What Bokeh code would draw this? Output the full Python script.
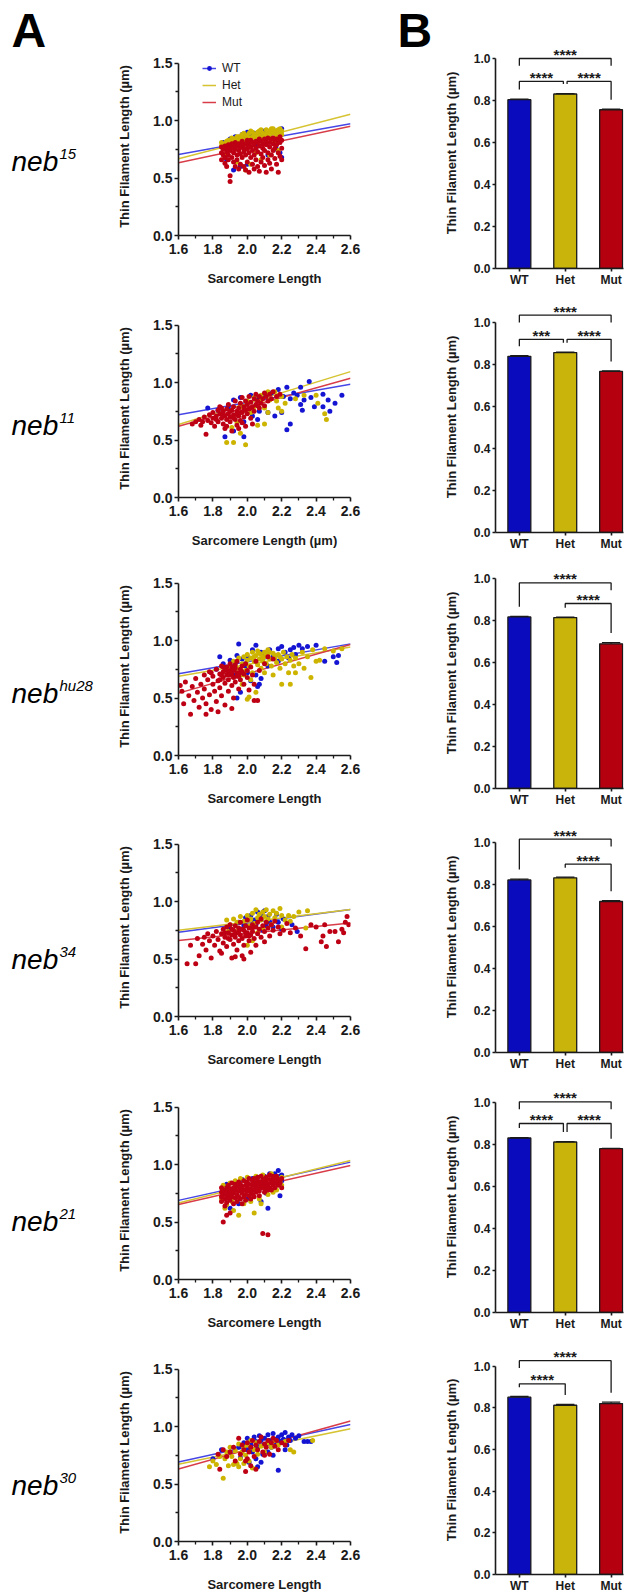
from bokeh.plotting import figure
from bokeh.models import Range1d, FixedTicker, PrintfTickFormatter, Legend, LegendItem
from bokeh.layouts import row, column
from bokeh.embed import file_html
from bokeh.resources import INLINE
from bokeh.core.properties import value

FONT = "Liberation Sans"
INK = "#1a1a1a"

GROUPS = ["WT", "Het", "Mut"]
PT_COLORS = ["#1414D2", "#CDB400", "#BE0014"]
LINE_COLORS = ["#4646E6", "#D6C332", "#D83C48"]
BAR_COLORS = ["#0B0BBE", "#C8B40A", "#B4000F"]

ALLELES = ["15", "11", "hu28", "34", "21", "30"]
X_LABELS = ["Sarcomere Length", "Sarcomere Length (µm)", "Sarcomere Length",
            "Sarcomere Length", "Sarcomere Length", "Sarcomere Length"]
Y_LABEL = "Thin Filament Length (µm)"

# ---------------- scatter data (sarcomere length, thin filament length) ----------------
WT15 = [(1.86,0.81),(1.88,0.66),(1.89,0.75),(1.90,0.84),(1.92,0.57),(1.93,0.86),(1.95,0.78),(1.96,0.60),
        (1.97,0.88),(2.00,0.62),(2.00,0.90),(2.04,0.89),(2.05,0.80),(2.07,0.90),(2.10,0.91),(2.10,0.82),
        (2.12,0.70),(2.14,0.85),(2.15,0.92),(2.17,0.75),(2.19,0.72),(2.20,0.93),(2.20,0.68),(1.98,0.84),
        (2.02,0.87),(2.08,0.86)]
HET15 = [(1.85,0.78),(1.85,0.81),(1.87,0.80),(1.87,0.76),(1.89,0.83),(1.89,0.79),(1.91,0.82),(1.91,0.85),
         (1.93,0.84),(1.93,0.80),(1.95,0.86),(1.95,0.82),(1.97,0.85),(1.97,0.88),(1.99,0.83),(1.99,0.87),
         (2.01,0.89),(2.01,0.85),(2.03,0.86),(2.03,0.90),(2.05,0.88),(2.05,0.84),(2.07,0.91),(2.07,0.87),
         (2.09,0.89),(2.09,0.85),(2.11,0.92),(2.11,0.88),(2.13,0.90),(2.13,0.86),(2.15,0.93),(2.15,0.89),
         (2.17,0.91),(2.17,0.87),(2.19,0.93),(2.19,0.90),(2.20,0.88),(1.94,0.64),(1.99,0.57),(2.02,0.62),
         (2.08,0.66),(2.13,0.70),(2.18,0.74),(1.88,0.70),(2.05,0.72),(1.92,0.77),(2.00,0.80),(2.10,0.83),
         (2.16,0.82),(1.86,0.79),(1.88,0.82),(1.90,0.81),(1.92,0.84),(1.94,0.86),(1.96,0.84),(1.98,0.89),
         (2.00,0.86),(2.02,0.91),(2.04,0.87),(2.06,0.90),(2.08,0.92),(2.10,0.88),(2.12,0.91),(2.14,0.93),
         (2.16,0.90),(2.18,0.92),(2.20,0.91)]
MUT15 = [(1.85,0.66),(1.85,0.72),(1.85,0.77),(1.86,0.70),(1.86,0.75),(1.87,0.63),(1.87,0.68),(1.87,0.78),
         (1.88,0.73),(1.88,0.76),(1.88,0.60),(1.89,0.70),(1.89,0.79),(1.89,0.66),(1.90,0.47),(1.90,0.52),
         (1.90,0.74),(1.90,0.78),(1.91,0.68),(1.91,0.76),(1.91,0.80),(1.92,0.72),(1.92,0.64),(1.92,0.79),
         (1.93,0.60),(1.93,0.75),(1.93,0.81),(1.94,0.70),(1.94,0.78),(1.94,0.66),(1.95,0.74),(1.95,0.80),
         (1.95,0.58),(1.96,0.62),(1.96,0.77),(1.96,0.71),(1.97,0.79),(1.97,0.68),(1.97,0.82),(1.98,0.73),
         (1.98,0.76),(1.98,0.60),(1.99,0.57),(1.99,0.80),(1.99,0.70),(2.00,0.64),(2.00,0.75),(2.00,0.79),
         (2.00,0.83),(2.01,0.55),(2.01,0.72),(2.01,0.80),(2.02,0.68),(2.02,0.77),(2.02,0.83),(2.03,0.62),
         (2.03,0.74),(2.03,0.81),(2.04,0.58),(2.04,0.79),(2.04,0.70),(2.05,0.66),(2.05,0.76),(2.05,0.82),
         (2.06,0.60),(2.06,0.81),(2.06,0.73),(2.07,0.56),(2.07,0.78),(2.07,0.84),(2.08,0.64),(2.08,0.71),
         (2.08,0.82),(2.09,0.68),(2.09,0.80),(2.09,0.76),(2.10,0.61),(2.10,0.74),(2.10,0.84),(2.11,0.55),
         (2.11,0.79),(2.11,0.82),(2.12,0.66),(2.12,0.72),(2.12,0.85),(2.13,0.63),(2.13,0.81),(2.13,0.77),
         (2.14,0.70),(2.14,0.84),(2.14,0.58),(2.15,0.74),(2.15,0.80),(2.15,0.85),(2.16,0.67),(2.16,0.83),
         (2.16,0.76),(2.17,0.62),(2.17,0.79),(2.17,0.84),(2.18,0.55),(2.18,0.72),(2.18,0.82),(2.19,0.69),
         (2.19,0.81),(2.19,0.86),(2.20,0.76),(2.20,0.83),(2.20,0.66)]

WT11 = [(2.36,1.01),(2.31,0.96),(2.27,0.91),(2.23,0.96),(2.37,0.87),(2.33,0.85),(2.31,0.81),(2.39,0.79),
        (2.32,0.76),(2.48,0.75),(2.44,0.79),(2.44,0.90),(2.51,0.82),(2.47,0.85),(2.25,0.64),(2.23,0.59),
        (2.20,0.74),(2.16,0.71),(2.12,0.74),(2.07,0.75),(2.06,0.68),(2.03,0.71),(1.98,0.66),(1.98,0.53),
        (1.87,0.53),(1.92,0.58),(2.18,0.94),(2.14,0.91),(2.10,0.89),(2.06,0.87),(2.02,0.89),(1.96,0.87),
        (1.92,0.85),(1.89,0.79),(1.83,0.76),(1.77,0.78),(2.55,0.89),(2.21,0.88),(2.25,0.86),(2.29,0.89)]
HET11 = [(1.88,0.48),(1.92,0.48),(1.99,0.46),(1.96,0.56),(2.06,0.63),(2.10,0.64),(2.12,0.74),(2.18,0.78),
         (2.22,0.82),(2.28,0.86),(2.33,0.89),(2.40,0.89),(2.41,0.82),(2.45,0.73),(2.46,0.68),(2.20,0.88),
         (2.16,0.92),(2.12,0.92),(2.08,0.89),(2.04,0.87),(2.00,0.84),(1.96,0.79),(2.04,0.79),(2.08,0.84),
         (2.13,0.85),(2.17,0.84),(2.02,0.74),(2.10,0.78),(1.94,0.65),(1.91,0.61),(2.20,0.75)]
MUT11 = [(1.68,0.64),(1.70,0.66),(1.72,0.68),(1.73,0.63),(1.75,0.70),(1.76,0.55),(1.77,0.67),(1.78,0.72),
         (1.79,0.65),(1.80,0.74),(1.80,0.69),(1.81,0.62),(1.82,0.71),(1.83,0.76),(1.83,0.66),(1.84,0.73),
         (1.85,0.69),(1.85,0.78),(1.86,0.64),(1.86,0.75),(1.87,0.71),(1.87,0.60),(1.88,0.77),(1.88,0.68),
         (1.89,0.73),(1.89,0.81),(1.90,0.70),(1.90,0.66),(1.91,0.76),(1.91,0.58),(1.92,0.79),(1.92,0.72),
         (1.93,0.68),(1.93,0.84),(1.94,0.75),(1.94,0.63),(1.95,0.78),(1.95,0.71),(1.96,0.82),(1.96,0.67),
         (1.97,0.74),(1.97,0.87),(1.98,0.79),(1.98,0.70),(1.99,0.76),(1.99,0.84),(2.00,0.81),(2.00,0.73),
         (2.01,0.88),(2.01,0.77),(2.02,0.83),(2.02,0.69),(2.03,0.79),(2.04,0.86),(2.04,0.75),(2.05,0.90),
         (2.05,0.81),(2.06,0.84),(2.07,0.78),(2.07,0.88),(2.08,0.82),(2.09,0.86),(2.10,0.91),(2.10,0.80),
         (2.11,0.88),(2.12,0.84),(2.13,0.90),(2.14,0.86),(2.15,0.92),(2.17,0.88),(2.19,0.90),(1.95,0.60),
         (1.99,0.62),(2.03,0.64),(1.88,0.62),(1.74,0.66),(1.84,0.79),(1.97,0.65),(1.82,0.68),(1.86,0.72),
         (1.90,0.75),(1.94,0.72),(1.98,0.76),(2.02,0.78),(2.06,0.80),(1.92,0.69),(1.96,0.74)]

WTHU28 = [(1.82,0.75),(1.86,0.80),(1.90,0.83),(1.94,0.87),(1.97,0.84),(2.00,0.86),(2.03,0.92),(2.05,0.96),
          (2.08,0.90),(2.10,0.88),(2.13,0.92),(2.15,0.86),(2.18,0.93),(2.20,0.95),(2.22,0.90),(2.25,0.92),
          (2.27,0.94),(2.30,0.96),(2.32,0.93),(2.35,0.95),(2.28,0.88),(2.24,0.85),(2.18,0.82),(2.12,0.78),
          (2.05,0.70),(2.02,0.65),(2.00,0.72),(2.07,0.62),(2.50,0.86),(2.52,0.81),(2.45,0.82),(1.99,0.78),
          (1.93,0.70),(1.84,0.86),(1.95,0.97),(2.40,0.96),(2.53,0.87),(2.08,0.67),(2.06,0.60),(1.94,0.50),
          (1.96,0.55)]
HETHU28 = [(1.90,0.78),(1.92,0.82),(1.94,0.76),(1.95,0.85),(1.96,0.70),(1.97,0.80),(1.98,0.86),(1.99,0.74),
           (2.00,0.83),(2.00,0.88),(2.01,0.78),(2.02,0.85),(2.03,0.90),(2.03,0.72),(2.04,0.82),(2.05,0.87),
           (2.06,0.79),(2.06,0.91),(2.07,0.84),(2.08,0.88),(2.08,0.76),(2.09,0.82),(2.10,0.90),(2.10,0.86),
           (2.11,0.80),(2.12,0.87),(2.12,0.92),(2.13,0.84),(2.14,0.78),(2.15,0.89),(2.16,0.85),(2.17,0.81),
           (2.18,0.88),(2.19,0.76),(2.20,0.84),(2.21,0.90),(2.22,0.80),(2.23,0.86),(2.24,0.72),(2.25,0.83),
           (2.26,0.88),(2.27,0.78),(2.28,0.85),(2.30,0.80),(2.32,0.90),(2.33,0.76),(2.35,0.86),(2.37,0.68),
           (2.38,0.92),(2.40,0.82),(2.42,0.83),(2.45,0.93),(2.50,0.91),(2.55,0.93),(1.97,0.62),(2.02,0.66),
           (2.05,0.55),(2.00,0.49),(2.01,0.51),(2.20,0.62),(2.25,0.62),(2.15,0.70),(2.28,0.72),(2.10,0.72),
           (1.98,0.70),(2.04,0.86),(2.07,0.89),(2.09,0.85),(2.11,0.88),(2.13,0.90),(2.16,0.87),(2.19,0.86)]
MUTHU28 = [(1.61,0.61),(1.62,0.56),(1.63,0.45),(1.64,0.64),(1.66,0.52),(1.67,0.36),(1.68,0.60),(1.69,0.48),
           (1.70,0.67),(1.71,0.55),(1.72,0.42),(1.73,0.62),(1.74,0.50),(1.75,0.70),(1.75,0.58),(1.76,0.45),
           (1.77,0.66),(1.78,0.53),(1.78,0.73),(1.79,0.40),(1.80,0.62),(1.80,0.69),(1.81,0.56),(1.82,0.75),
           (1.82,0.47),(1.83,0.65),(1.84,0.71),(1.84,0.59),(1.85,0.78),(1.85,0.52),(1.86,0.68),(1.86,0.73),
           (1.87,0.63),(1.87,0.44),(1.88,0.77),(1.88,0.70),(1.89,0.56),(1.89,0.66),(1.90,0.74),(1.90,0.80),
           (1.91,0.61),(1.91,0.71),(1.92,0.68),(1.92,0.50),(1.93,0.76),(1.93,0.64),(1.94,0.72),(1.94,0.82),
           (1.95,0.58),(1.95,0.69),(1.96,0.75),(1.96,0.66),(1.97,0.78),(1.98,0.62),(1.98,0.71),(1.99,0.80),
           (2.00,0.68),(2.00,0.74),(2.01,0.57),(2.02,0.77),(2.03,0.70),(2.04,0.62),(2.05,0.82),(2.06,0.48),
           (2.07,0.74),(2.04,0.48),(2.10,0.80),(2.12,0.86),(2.15,0.84),(1.83,0.38),(1.91,0.41),(1.76,0.36),
           (1.79,0.72),(1.87,0.76),(1.91,0.77),(1.97,0.73),(1.84,0.66),(1.89,0.72),(1.86,0.77),(1.88,0.74),
           (1.90,0.70),(1.92,0.74),(1.94,0.69),(1.96,0.72),(1.85,0.70),(1.93,0.79)]

WT34 = [(1.90,0.76),(1.95,0.82),(1.99,0.86),(2.02,0.88),(2.04,0.84),(2.06,0.91),(2.08,0.89),(2.10,0.92),
        (2.12,0.87),(2.13,0.82),(2.15,0.78),(2.17,0.89),(2.18,0.82),(2.20,0.76),(2.05,0.80),(2.09,0.75),
        (2.11,0.79),(2.21,0.85),(2.29,0.74),(2.26,0.80),(1.98,0.79),(2.07,0.86)]
HET34 = [(1.88,0.84),(1.90,0.80),(1.92,0.85),(1.94,0.82),(1.96,0.87),(1.98,0.83),(2.00,0.88),(2.02,0.85),
         (2.03,0.90),(2.04,0.81),(2.05,0.93),(2.06,0.86),(2.07,0.89),(2.08,0.84),(2.09,0.91),(2.10,0.87),
         (2.11,0.93),(2.12,0.85),(2.13,0.89),(2.15,0.92),(2.16,0.86),(2.17,0.90),(2.19,0.94),(2.20,0.88),
         (2.22,0.84),(2.24,0.88),(2.25,0.83),(2.27,0.87),(2.30,0.91),(2.35,0.92),(1.95,0.76),(2.01,0.79),
         (2.03,0.66),(2.00,0.62),(2.09,0.77),(2.14,0.80),(2.20,0.78),(2.34,0.77),(1.89,0.74),(2.06,0.73)]
MUT34 = [(1.65,0.46),(1.70,0.46),(1.67,0.62),(1.71,0.68),(1.72,0.53),(1.74,0.63),(1.75,0.69),(1.76,0.58),
         (1.77,0.72),(1.78,0.66),(1.79,0.51),(1.80,0.70),(1.81,0.62),(1.82,0.74),(1.83,0.67),(1.84,0.57),
         (1.85,0.72),(1.86,0.76),(1.86,0.64),(1.87,0.69),(1.88,0.78),(1.88,0.61),(1.89,0.73),(1.90,0.67),
         (1.90,0.80),(1.91,0.71),(1.91,0.51),(1.92,0.75),(1.92,0.63),(1.93,0.69),(1.93,0.79),(1.94,0.73),
         (1.94,0.58),(1.95,0.66),(1.95,0.77),(1.96,0.71),(1.96,0.82),(1.97,0.68),(1.97,0.53),(1.98,0.75),
         (1.98,0.62),(1.99,0.79),(1.99,0.70),(2.00,0.73),(2.00,0.84),(2.01,0.66),(2.01,0.77),(2.02,0.71),
         (2.02,0.56),(2.03,0.80),(2.03,0.74),(2.04,0.68),(2.05,0.78),(2.05,0.62),(2.06,0.82),(2.06,0.72),
         (2.07,0.76),(2.08,0.85),(2.08,0.69),(2.09,0.79),(2.10,0.74),(2.10,0.65),(2.11,0.82),(2.12,0.77),
         (2.13,0.70),(2.14,0.80),(2.15,0.75),(2.16,0.83),(2.18,0.78),(2.19,0.72),(2.21,0.75),(2.23,0.81),
         (2.25,0.73),(2.28,0.77),(2.31,0.70),(2.34,0.59),(2.37,0.80),(2.40,0.78),(2.43,0.65),(2.44,0.70),
         (2.45,0.80),(2.46,0.61),(2.48,0.74),(2.51,0.74),(2.53,0.65),(2.55,0.76),(2.56,0.73),(2.57,0.82),
         (2.58,0.87),(2.59,0.80),(1.85,0.55),(1.93,0.52),(1.98,0.50),(1.87,0.73),(1.89,0.68),(1.91,0.76),
         (1.93,0.72),(1.95,0.74),(1.97,0.76),(1.99,0.73),(2.01,0.70),(2.03,0.77)]

WT21 = [(1.86,0.76),(1.88,0.83),(1.90,0.62),(1.93,0.85),(1.97,0.87),(2.00,0.70),(2.03,0.88),(2.06,0.89),
        (2.08,0.68),(2.10,0.90),(2.12,0.62),(2.13,0.92),(2.15,0.88),(2.16,0.92),(2.18,0.95),(2.19,0.73),
        (2.20,0.91),(2.20,0.86),(2.17,0.84),(2.19,0.90),(2.11,0.75),(1.95,0.66)]
HET21 = [(1.85,0.70),(1.86,0.82),(1.88,0.65),(1.90,0.84),(1.92,0.60),(1.93,0.86),(1.95,0.56),(1.96,0.88),
         (1.98,0.66),(2.00,0.89),(2.02,0.68),(2.04,0.58),(2.05,0.90),(2.07,0.70),(2.09,0.91),(2.12,0.74),
         (2.14,0.92),(2.17,0.78),(2.19,0.85),(2.20,0.89),(2.20,0.82),(1.91,0.68),(2.08,0.66),(2.15,0.76),
         (1.87,0.62)]
MUT21 = [(1.85,0.72),(1.85,0.76),(1.85,0.80),(1.85,0.68),(1.86,0.74),(1.86,0.50),(1.86,0.78),(1.87,0.70),
         (1.87,0.77),(1.87,0.64),(1.88,0.73),(1.88,0.80),(1.88,0.56),(1.88,0.67),(1.89,0.76),(1.89,0.71),
         (1.89,0.82),(1.90,0.58),(1.90,0.74),(1.90,0.79),(1.90,0.69),(1.91,0.77),(1.91,0.72),(1.91,0.84),
         (1.92,0.66),(1.92,0.75),(1.92,0.80),(1.93,0.71),(1.93,0.78),(1.93,0.83),(1.94,0.74),(1.94,0.68),
         (1.94,0.81),(1.95,0.77),(1.95,0.85),(1.95,0.72),(1.96,0.70),(1.96,0.79),(1.96,0.83),(1.97,0.75),
         (1.97,0.81),(1.97,0.66),(1.98,0.78),(1.98,0.72),(1.98,0.86),(1.99,0.74),(1.99,0.82),(1.99,0.69),
         (2.00,0.77),(2.00,0.85),(2.00,0.80),(2.01,0.73),(2.01,0.83),(2.01,0.88),(2.02,0.79),(2.02,0.76),
         (2.02,0.70),(2.03,0.82),(2.03,0.86),(2.03,0.74),(2.04,0.78),(2.04,0.88),(2.04,0.72),(2.05,0.81),
         (2.05,0.84),(2.05,0.76),(2.06,0.86),(2.06,0.79),(2.06,0.89),(2.07,0.77),(2.07,0.83),(2.07,0.73),
         (2.08,0.85),(2.08,0.80),(2.08,0.90),(2.09,0.40),(2.09,0.82),(2.09,0.87),(2.10,0.79),(2.10,0.84),
         (2.10,0.76),(2.11,0.86),(2.11,0.81),(2.11,0.89),(2.12,0.39),(2.12,0.83),(2.12,0.78),(2.13,0.87),
         (2.13,0.80),(2.13,0.91),(2.14,0.84),(2.14,0.78),(2.15,0.86),(2.15,0.82),(2.15,0.90),(2.16,0.80),
         (2.16,0.88),(2.17,0.84),(2.17,0.90),(2.18,0.82),(2.18,0.87),(2.19,0.84),(2.20,0.88),(2.20,0.80),
         (2.19,0.86)]

WT30 = [(1.80,0.72),(1.85,0.80),(1.90,0.78),(1.95,0.82),(1.98,0.86),(2.00,0.90),(2.02,0.85),(2.03,0.78),
        (2.04,0.91),(2.05,0.87),(2.06,0.82),(2.07,0.92),(2.08,0.88),(2.09,0.76),(2.10,0.90),(2.11,0.85),
        (2.12,0.93),(2.13,0.88),(2.14,0.82),(2.15,0.94),(2.16,0.89),(2.17,0.85),(2.18,0.62),(2.18,0.91),
        (2.19,0.87),(2.20,0.93),(2.21,0.89),(2.22,0.95),(2.23,0.84),(2.24,0.91),(2.25,0.88),(2.26,0.93),
        (2.28,0.90),(2.30,0.92),(2.33,0.87),(2.35,0.87),(2.37,0.87),(2.05,0.72),(2.08,0.69),(2.12,0.78),
        (2.01,0.69),(2.06,0.65),(1.96,0.73),(2.22,0.80),(2.15,0.75),(2.00,0.80)]
HET30 = [(1.78,0.65),(1.80,0.70),(1.82,0.67),(1.84,0.74),(1.86,0.55),(1.87,0.72),(1.88,0.78),(1.89,0.66),
         (1.90,0.82),(1.91,0.74),(1.92,0.67),(1.93,0.79),(1.94,0.68),(1.95,0.85),(1.96,0.72),(1.97,0.78),
         (1.98,0.82),(1.99,0.75),(2.00,0.84),(2.01,0.70),(2.02,0.88),(2.03,0.64),(2.04,0.80),(2.05,0.86),
         (2.06,0.76),(2.08,0.83),(2.10,0.78),(2.12,0.86),(2.14,0.82),(2.16,0.88),(2.18,0.84),(2.22,0.87),
         (2.25,0.80),(2.27,0.78),(2.38,0.88),(1.95,0.65),(1.98,0.68)]
MUT30 = [(1.83,0.76),(1.86,0.80),(1.88,0.74),(1.90,0.78),(1.92,0.82),(1.93,0.70),(1.95,0.90),(1.96,0.76),
         (1.97,0.84),(1.98,0.80),(1.99,0.70),(2.00,0.86),(2.01,0.78),(2.02,0.82),(2.03,0.88),(2.04,0.74),
         (2.05,0.84),(2.06,0.80),(2.07,0.87),(2.08,0.91),(2.09,0.78),(2.10,0.85),(2.11,0.82),(2.12,0.88),
         (2.13,0.76),(2.14,0.86),(2.15,0.90),(2.16,0.83),(2.17,0.88),(2.18,0.80),(2.20,0.86),(2.22,0.84),
         (2.24,0.88),(2.02,0.66),(1.99,0.61),(2.05,0.63),(1.84,0.63),(2.00,0.72),(2.10,0.75)]

POINTS = {
    "WT": [WT15, WT11, WTHU28, WT34, WT21, WT30],
    "Het": [HET15, HET11, HETHU28, HET34, HET21, HET30],
    "Mut": [MUT15, MUT11, MUTHU28, MUT34, MUT21, MUT30],
}

# linear fits: thin filament length at SL = 1.6 and at SL = 2.6
FIT_SL = [1.6, 2.6]
FIT_WT = [(0.706, 0.974), (0.721, 0.986), (0.711, 0.972), (0.734, 0.931), (0.689, 1.022), (0.693, 1.019)]
FIT_HET = [(0.669, 1.055), (0.635, 1.096), (0.690, 0.945), (0.751, 0.931), (0.666, 1.037), (0.673, 0.982)]
FIT_MUT = [(0.634, 0.951), (0.620, 1.038), (0.543, 0.966), (0.662, 0.815), (0.654, 0.993), (0.632, 1.049)]
FITS = [FIT_WT, FIT_HET, FIT_MUT]

# ---------------- bar data ----------------
MEAN_WT = [0.804, 0.839, 0.817, 0.822, 0.831, 0.852]
MEAN_HET = [0.831, 0.857, 0.814, 0.832, 0.812, 0.813]
MEAN_MUT = [0.756, 0.767, 0.689, 0.719, 0.780, 0.821]
SEM_WT = [0.003, 0.003, 0.003, 0.004, 0.002, 0.003]
SEM_HET = [0.002, 0.002, 0.002, 0.003, 0.002, 0.004]
SEM_MUT = [0.003, 0.002, 0.006, 0.004, 0.002, 0.007]
SIG = [
    [(0, 2, 1.000, "****"), (0, 1, 0.891, "****"), (1, 2, 0.891, "****")],
    [(0, 2, 1.035, "****"), (0, 1, 0.920, "***"), (1, 2, 0.920, "****")],
    [(0, 2, 0.979, "****"), (1, 2, 0.881, "****")],
    [(0, 2, 1.016, "****"), (1, 2, 0.897, "****")],
    [(0, 2, 1.003, "****"), (0, 1, 0.900, "****"), (1, 2, 0.900, "****")],
    [(0, 2, 1.027, "****"), (0, 1, 0.916, "****")],
]

# ---------------- layout geometry (pixels, page has no body margin) ----------------
TOTAL_H = 1595
SC_W, SC_LEFT, SC_RIGHT, SC_FRAME = 272, 70, 30, 178
SC_H = [297, 262, 258, 261, 263, 254]
SC_TOP = [57, 22, 18, 21, 23, 22]
BAR_W, BAR_LEFT, BAR_RIGHT, BAR_FRAME = 184, 53, 1, 231
BAR_H = [292, 264, 256, 264, 260, 259]
BAR_TOP = [37, 9, 1, 9, 5, 9]
LABEL_MID = [161, 425, 693, 959, 1221, 1485]


def style_axes(p, tick_size, label_size):
    for ax in p.axis:
        ax.axis_line_color = INK
        ax.axis_line_width = 1.6
        ax.major_tick_line_color = INK
        ax.major_tick_line_width = 1.6
        ax.minor_tick_line_color = INK
        ax.minor_tick_line_width = 1.3
        ax.major_tick_in = 0
        ax.major_tick_out = 4
        ax.minor_tick_in = 0
        ax.minor_tick_out = 3
        ax.major_label_text_font = FONT
        ax.major_label_text_font_style = "bold"
        ax.major_label_text_font_size = tick_size
        ax.major_label_text_color = INK
        ax.major_label_standoff = 2
        ax.axis_label_text_font = FONT
        ax.axis_label_text_font_style = "bold"
        ax.axis_label_text_font_size = label_size
        ax.axis_label_text_color = INK


def scatter_panel(i):
    h, top = SC_H[i], SC_TOP[i]
    p = figure(width=SC_W, height=h, x_range=Range1d(1.6, 2.6), y_range=Range1d(0, 1.55),
               output_backend="svg", toolbar_location=None,
               min_border_left=SC_LEFT, min_border_right=SC_RIGHT,
               min_border_top=top, min_border_bottom=h - top - SC_FRAME)
    p.outline_line_color = None
    p.grid.visible = False
    lines = []
    for g in range(3):
        a, b = FITS[g][i]
        lines.append(p.line(FIT_SL, [a, b], line_color=LINE_COLORS[g], line_width=1.5))
    dots = []
    for g, name in enumerate(GROUPS):
        pts = POINTS[name][i]
        dots.append(p.scatter([q[0] for q in pts], [q[1] for q in pts], size=5,
                              fill_color=PT_COLORS[g], line_color=None))
    p.xaxis.ticker = FixedTicker(ticks=[1.6, 1.8, 2.0, 2.2, 2.4, 2.6], minor_ticks=[1.7, 1.9, 2.1, 2.3, 2.5])
    p.yaxis.ticker = FixedTicker(ticks=[0.0, 0.5, 1.0, 1.5], minor_ticks=[0.25, 0.75, 1.25])
    p.xaxis.formatter = PrintfTickFormatter(format="%.1f")
    p.yaxis.formatter = PrintfTickFormatter(format="%.1f")
    p.yaxis.bounds = (0, 1.5)
    p.xaxis.axis_label = X_LABELS[i]
    p.yaxis.axis_label = Y_LABEL
    style_axes(p, "14px", "13px")
    p.xaxis.major_label_standoff = 4
    p.xaxis.axis_label_standoff = 14
    p.yaxis.axis_label_standoff = 18
    if i == 0:
        items = [LegendItem(label="WT", renderers=[lines[0], dots[0]]),
                 LegendItem(label="Het", renderers=[lines[1]]),
                 LegendItem(label="Mut", renderers=[lines[2]])]
        leg = Legend(items=items, location=(24, 126), orientation="vertical",
                     glyph_width=14, glyph_height=12, label_height=14, spacing=3,
                     padding=0, margin=0, label_standoff=6,
                     border_line_color=None, background_fill_alpha=0,
                     label_text_font=FONT, label_text_font_size="12px", label_text_color=INK)
        p.add_layout(leg)
    return p


def bar_panel(i):
    h, top = BAR_H[i], BAR_TOP[i]
    means = [MEAN_WT[i], MEAN_HET[i], MEAN_MUT[i]]
    sems = [SEM_WT[i], SEM_HET[i], SEM_MUT[i]]
    xs = [0, 1, 2]
    p = figure(width=BAR_W, height=h, x_range=Range1d(-0.52, 2.27), y_range=Range1d(0, 1.1),
               output_backend="svg", toolbar_location=None,
               min_border_left=BAR_LEFT, min_border_right=BAR_RIGHT,
               min_border_top=top, min_border_bottom=h - top - BAR_FRAME)
    p.outline_line_color = None
    p.grid.visible = False
    p.vbar(x=xs, top=means, width=0.5, fill_color=BAR_COLORS, line_color=INK, line_width=1.3)
    tops = [m + s for m, s in zip(means, sems)]
    p.segment(x0=xs, y0=means, x1=xs, y1=tops, line_color=INK, line_width=1.3)
    p.segment(x0=[x - 0.2 for x in xs], y0=tops, x1=[x + 0.2 for x in xs], y1=tops,
              line_color=INK, line_width=1.3)
    brackets = SIG[i]
    lower_pairs = [(a, b) for a, b, lv, t in brackets if b - a == 1]
    both_lower = len(lower_pairs) == 2
    bx, by, tx, ty, tt = [], [], [], [], []
    for a, b, lv, t in brackets:
        xl, xr = float(a), float(b)
        if b - a == 1 and both_lower:
            if b == 1:
                xr = 1 - 0.04
            if a == 1:
                xl = 1 + 0.04

        def leg_end(k):
            under = [l2 for a2, b2, l2, t2 in brackets if l2 < lv and k in (a2, b2)]
            if under:
                return lv - 0.035
            return tops[k] + 0.045
        bx.append([xl, xl, xr, xr])
        by.append([leg_end(a), lv, lv, leg_end(b)])
        tx.append((xl + xr) / 2)
        ty.append(lv + 0.019)
        tt.append(t)
    p.multi_line(bx, by, line_color=INK, line_width=1.3)
    p.text(x=tx, y=ty, text=tt, text_align="center", text_baseline="middle",
           text_font=value(FONT), text_font_style="bold", text_font_size="15px", text_color=INK)
    p.xaxis.ticker = FixedTicker(ticks=xs)
    p.xaxis.major_label_overrides = {0: "WT", 1: "Het", 2: "Mut"}
    p.yaxis.ticker = FixedTicker(ticks=[0.0, 0.2, 0.4, 0.6, 0.8, 1.0])
    p.yaxis.formatter = PrintfTickFormatter(format="%.1f")
    p.yaxis.bounds = (0, 1.0)
    p.yaxis.axis_label = Y_LABEL
    style_axes(p, "12px", "13px")
    p.xaxis.major_tick_out = 3
    p.xaxis.major_label_standoff = 1
    p.yaxis.major_tick_out = 3
    p.yaxis.axis_label_standoff = 12
    return p


def strip(width, letter, letter_x, with_rows):
    p = figure(width=width, height=TOTAL_H, x_range=Range1d(0, width), y_range=Range1d(TOTAL_H, 0),
               x_axis_type=None, y_axis_type=None, output_backend="svg", toolbar_location=None,
               min_border_left=0, min_border_right=0, min_border_top=0, min_border_bottom=0)
    p.outline_line_color = None
    p.grid.visible = False
    p.text(x=[letter_x], y=[30], text=[letter], text_font=value(FONT), text_font_style="bold",
           text_font_size="48px", text_baseline="middle", text_align="left", text_color="#000000")
    if with_rows:
        p.text(x=[11] * 6, y=LABEL_MID, text=["neb"] * 6, text_font=value(FONT),
               text_font_style="italic", text_font_size="28px", text_baseline="middle",
               text_align="left", text_color="#000000")
        p.text(x=[59] * 6, y=[m - 8 for m in LABEL_MID], text=ALLELES, text_font=value(FONT),
               text_font_style="italic", text_font_size="15px", text_baseline="middle",
               text_align="left", text_color="#000000")
    return p


strip_a = strip(108, "A", 11, True)
strip_b = strip(60, "B", 17, False)
scatters = column(*[scatter_panel(i) for i in range(6)])
bars = column(*[bar_panel(i) for i in range(6)])
layout = row(strip_a, scatters, strip_b, bars)

open("out.html", "w").write(file_html(layout, INLINE))
